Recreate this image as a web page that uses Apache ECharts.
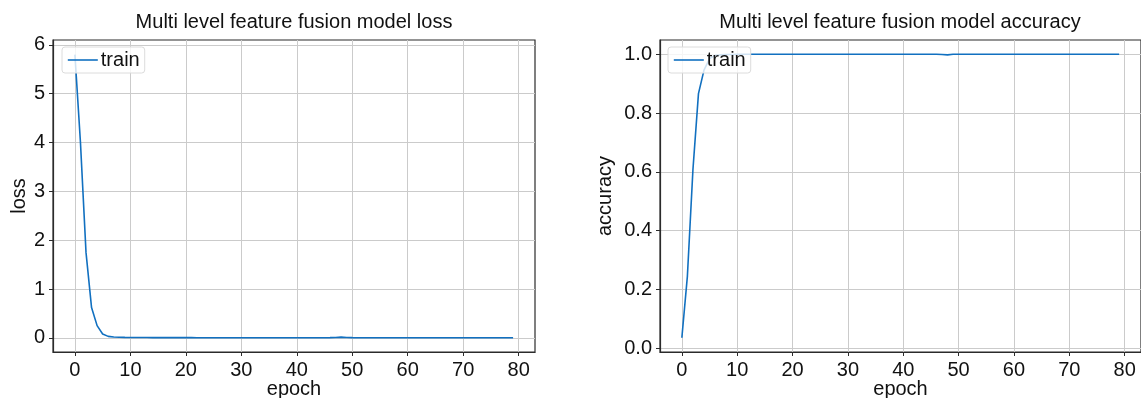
<!DOCTYPE html>
<html>
<head>
<meta charset="utf-8">
<script src="https://cdn.jsdelivr.net/npm/echarts@6/dist/echarts.min.js"></script>
<style>
  html, body { margin: 0; padding: 0; background: #fff; }
  #chart { width: 1141px; height: 398px; }
</style>
</head>
<body>
<div id="chart"></div>
<script>
// values (80 epochs)
var lossValues = [
  5.8, 4.0, 1.75, 0.62, 0.25, 0.08, 0.03, 0.016, 0.011, 0.009,
  0.008, 0.007, 0.006, 0.006, 0.005, 0.005, 0.005, 0.004, 0.004, 0.004,
  0.004, 0.004, 0.003, 0.003, 0.003, 0.003, 0.003, 0.003, 0.003, 0.003,
  0.003, 0.003, 0.003, 0.003, 0.003, 0.003, 0.003, 0.003, 0.003, 0.003,
  0.003, 0.003, 0.003, 0.003, 0.003, 0.003, 0.004, 0.006, 0.014, 0.007,
  0.004, 0.003, 0.003, 0.003, 0.003, 0.003, 0.003, 0.003, 0.003, 0.003,
  0.003, 0.003, 0.003, 0.003, 0.003, 0.003, 0.003, 0.003, 0.003, 0.003,
  0.003, 0.003, 0.003, 0.003, 0.003, 0.003, 0.003, 0.003, 0.003, 0.003
];
var accValues = [
  0.035, 0.245, 0.607, 0.866, 0.946, 0.985, 0.996, 0.998, 0.999, 0.999,
  1.0, 1.0, 1.0, 1.0, 1.0, 1.0, 1.0, 1.0, 1.0, 1.0,
  1.0, 1.0, 1.0, 1.0, 1.0, 1.0, 1.0, 1.0, 1.0, 1.0,
  1.0, 1.0, 1.0, 1.0, 1.0, 1.0, 1.0, 1.0, 1.0, 1.0,
  1.0, 1.0, 1.0, 1.0, 1.0, 1.0, 1.0, 0.999, 0.998, 1.0,
  1.0, 1.0, 1.0, 1.0, 1.0, 1.0, 1.0, 1.0, 1.0, 1.0,
  1.0, 1.0, 1.0, 1.0, 1.0, 1.0, 1.0, 1.0, 1.0, 1.0,
  1.0, 1.0, 1.0, 1.0, 1.0, 1.0, 1.0, 1.0, 1.0, 1.0
];
var epochTicks = [0, 10, 20, 30, 40, 50, 60, 70, 80];
var lossTicks = [0, 1, 2, 3, 4, 5, 6];
var accTicks = [0, 0.2, 0.4, 0.6, 0.8, 1.0];
var titles = ['Multi level feature fusion model loss', 'Multi level feature fusion model accuracy'];
var seriesName = 'train';

var FONT = 'Liberation Sans, Arial, Helvetica, sans-serif';
var LINE = '#1170c0';
var FRAME = '#2b2b2b';
var GRIDLINE = '#cbcbcb';
var FS = 20;

function pairs(vals) {
  var out = [];
  for (var i = 0; i < vals.length; i++) out.push([i, vals[i]]);
  return out;
}

function xAxis(idx) {
  return {
    type: 'value', gridIndex: idx, min: -3.95, max: 82.95,
    name: 'epoch', nameLocation: 'middle', nameGap: 27, nameMoveOverlap: false,
    nameTextStyle: { color: '#111', fontSize: FS, fontFamily: FONT },
    axisLine: { show: true, onZero: false, lineStyle: { color: FRAME, width: 1.2 } },
    axisTick: { show: true, length: 4, customValues: epochTicks, lineStyle: { color: FRAME } },
    axisLabel: { customValues: epochTicks, margin: 8, color: '#111', fontSize: FS, fontFamily: FONT },
    splitLine: { show: true, lineStyle: { color: GRIDLINE, width: 1 } }
  };
}

function yAxis(idx, name, min, max, ticks, gap, fmt) {
  return {
    type: 'value', gridIndex: idx, min: min, max: max,
    name: name, nameLocation: 'middle', nameGap: gap, nameMoveOverlap: false,
    nameTextStyle: { color: '#111', fontSize: FS, fontFamily: FONT },
    axisLine: { show: true, onZero: false, lineStyle: { color: FRAME, width: 1.2 } },
    axisTick: { show: true, length: 4, customValues: ticks, lineStyle: { color: FRAME } },
    axisLabel: { customValues: ticks, margin: 8, color: '#111', fontSize: FS, fontFamily: FONT, formatter: fmt },
    splitLine: { show: true, lineStyle: { color: GRIDLINE, width: 1 } }
  };
}

function legend(left) {
  return {
    data: [seriesName], left: left, top: 47, orient: 'horizontal',
    padding: [3, 5, 3, 5], itemWidth: 30, itemHeight: 14, itemGap: 5,
    backgroundColor: 'rgba(255,255,255,0.8)', borderColor: '#dcdcdc', borderWidth: 1, borderRadius: 3,
    itemStyle: { opacity: 0 },
    lineStyle: { width: 1.6 },
    textStyle: { color: '#111', fontSize: FS, fontFamily: FONT, padding: [0, 0, 0, -2] },
    selectedMode: false
  };
}

var chart = echarts.init(document.getElementById('chart'), null, { renderer: 'canvas' });
chart.setOption({
  animation: false,
  backgroundColor: '#fff',
  title: [
    { text: titles[0], left: 294, top: 12, textAlign: 'center', padding: 0,
      textStyle: { color: '#111', fontSize: FS, fontWeight: 'normal', fontFamily: FONT } },
    { text: titles[1], left: 900, top: 12, textAlign: 'center', padding: 0,
      textStyle: { color: '#111', fontSize: FS, fontWeight: 'normal', fontFamily: FONT } }
  ],
  legend: [legend(62), legend(668)],
  grid: [
    { left: 53, top: 40, width: 482, height: 312, show: true, outerBoundsMode: 'none', containLabel: false,
      borderColor: FRAME, borderWidth: 1.2, backgroundColor: 'transparent' },
    { left: 660, top: 40, width: 481, height: 312, show: true, outerBoundsMode: 'none', containLabel: false,
      borderColor: FRAME, borderWidth: 1.2, backgroundColor: 'transparent' }
  ],
  xAxis: [xAxis(0), xAxis(1)],
  yAxis: [
    yAxis(0, 'loss', -0.29, 6.1, lossTicks, 24, function (v) { return String(v); }),
    yAxis(1, 'accuracy', -0.0135, 1.0485, accTicks, 45, function (v) { return v.toFixed(1); })
  ],
  series: [
    { name: seriesName, type: 'line', xAxisIndex: 0, yAxisIndex: 0, data: pairs(lossValues),
      symbol: 'none', lineStyle: { color: LINE, width: 1.6 }, itemStyle: { color: LINE } },
    { name: seriesName, type: 'line', xAxisIndex: 1, yAxisIndex: 1, data: pairs(accValues),
      symbol: 'none', lineStyle: { color: LINE, width: 1.6 }, itemStyle: { color: LINE } }
  ]
});
</script>
</body>
</html>
